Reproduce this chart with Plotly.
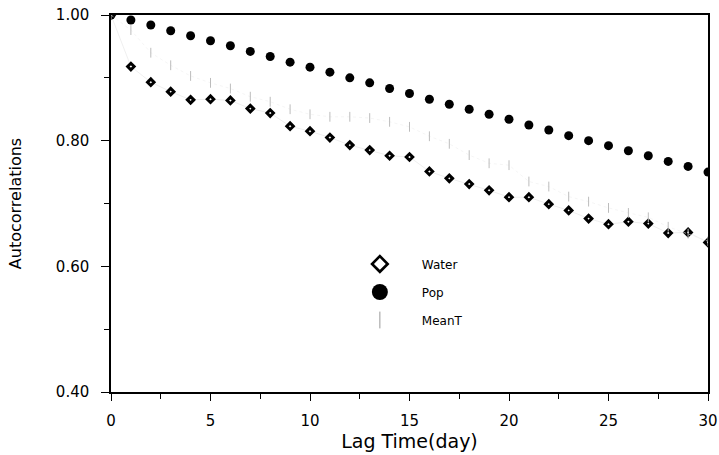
import plotly.graph_objects as go

lag = list(range(0, 31))
water = [1.000, 0.918, 0.893, 0.878, 0.865, 0.866, 0.864, 0.851, 0.844, 0.823, 0.815,
         0.805, 0.793, 0.785, 0.776, 0.774, 0.751, 0.740, 0.731, 0.721, 0.710,
         0.710, 0.699, 0.689, 0.676, 0.667, 0.671, 0.668, 0.653, 0.654, 0.638]
pop = [1.000, 0.992, 0.984, 0.975, 0.967, 0.959, 0.951, 0.942, 0.934, 0.925, 0.917,
       0.909, 0.900, 0.892, 0.883, 0.875, 0.866, 0.858, 0.850, 0.842, 0.834,
       0.825, 0.817, 0.808, 0.800, 0.792, 0.784, 0.776, 0.767, 0.759, 0.750]
meant = [1.000, 0.976, 0.940, 0.920, 0.903, 0.892, 0.883, 0.870, 0.862, 0.850, 0.842,
         0.838, 0.838, 0.836, 0.830, 0.822, 0.807, 0.795, 0.777, 0.764, 0.761,
         0.735, 0.727, 0.711, 0.703, 0.693, 0.685, 0.678, 0.663, 0.652, 0.640]
series_names = ["Water", "Pop", "MeanT"]

FONT = "DejaVu Sans, Verdana, sans-serif"

fig = go.Figure()
# data traces (no legend entries)
fig.add_trace(go.Scatter(
    x=lag, y=water, name=series_names[0], mode="lines+markers", showlegend=False,
    legendgroup="w",
    line=dict(color="#e4e4e4", width=0.6),
    marker=dict(symbol="diamond", size=5, color="white", line=dict(color="black", width=3)),
))
fig.add_trace(go.Scatter(
    x=lag, y=pop, name=series_names[1], mode="markers", showlegend=False,
    legendgroup="p",
    marker=dict(symbol="circle", size=9, color="black", line=dict(width=0)),
))
fig.add_trace(go.Scatter(
    x=lag, y=meant, name=series_names[2], mode="lines+markers", showlegend=False,
    legendgroup="m",
    line=dict(color="#eeeeee", width=0.6, dash="dot"),
    marker=dict(symbol="line-ns", size=7, color="#c4c4c4", line=dict(color="#bcbcbc", width=1)),
))
# legend-only entries (larger symbols, no lines)
fig.add_trace(go.Scatter(
    x=[None], y=[None], name=series_names[0], mode="markers", legendgroup="w",
    marker=dict(symbol="diamond", size=12, color="white", line=dict(color="black", width=2.6)),
))
fig.add_trace(go.Scatter(
    x=[None], y=[None], name=series_names[1], mode="markers", legendgroup="p",
    marker=dict(symbol="circle", size=16, color="black", line=dict(width=0)),
))
fig.add_trace(go.Scatter(
    x=[None], y=[None], name=series_names[2], mode="markers", legendgroup="m",
    marker=dict(symbol="line-ns", size=12, color="#999", line=dict(color="#999", width=1)),
))

fig.update_layout(
    width=719, height=455,
    margin=dict(l=111, r=11, t=15, b=63, autoexpand=False),
    paper_bgcolor="white", plot_bgcolor="white",
    font=dict(family=FONT, color="black", size=15),
    showlegend=True,
    legend=dict(x=0.380, y=0.378, xanchor="left", yanchor="top",
                bgcolor="rgba(0,0,0,0)", font=dict(size=12, family=FONT),
                itemwidth=74, itemsizing="trace", tracegroupgap=9),
    xaxis=dict(
        range=[0, 30], tickvals=[0, 5, 10, 15, 20, 25, 30],
        showgrid=False, zeroline=False, automargin=False,
        showline=True, linecolor="black", linewidth=1.5, mirror=True,
        ticks="outside", ticklen=7, tickwidth=1.3, tickcolor="black",
        ticklabelstandoff=7,
        minor=dict(tickvals=[2.5, 7.5, 12.5, 17.5, 22.5, 27.5], ticks="outside",
                   ticklen=5, tickwidth=1, tickcolor="black"),
        title=dict(text="Lag Time(day)", font=dict(size=19), standoff=2),
    ),
    yaxis=dict(
        range=[0.4, 1.0], tickvals=[0.4, 0.6, 0.8, 1.0], tickformat=".2f",
        showgrid=False, zeroline=False, automargin=False,
        showline=True, linecolor="black", linewidth=1.5, mirror=True,
        ticks="outside", ticklen=8, tickwidth=1.3, tickcolor="black",
        ticklabelstandoff=9,
        minor=dict(tickvals=[0.5, 0.7, 0.9], ticks="outside",
                   ticklen=5, tickwidth=1, tickcolor="black"),
        title=dict(text="Autocorrelations", font=dict(size=16), standoff=30),
    ),
)

fig.write_html("out.html")
